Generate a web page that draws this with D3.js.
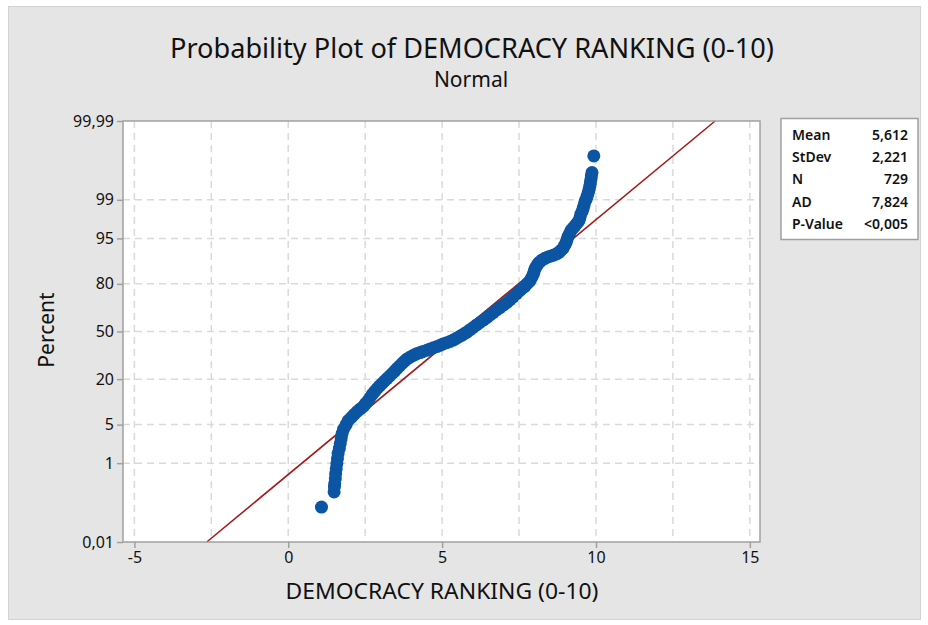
<!DOCTYPE html>
<html>
<head>
<meta charset="utf-8">
<script src="https://cdn.jsdelivr.net/npm/d3@7"></script>
<style>
  body { margin: 0; background: #fff; }
  text { font-family: "Noto Sans", "Open Sans", sans-serif; fill: #111; }
</style>
</head>
<body>
<div id="chart-area"></div>
<script>
// data (democracy ranking, sorted, with plotting position in %)
const rankValues = [1.08,
  1.49, 1.50, 1.51, 1.53, 1.54, 1.56, 1.58, 1.60, 1.62, 1.66, 1.69, 1.72, 1.75, 1.80, 1.88, 1.95,
  2.05, 2.14, 2.24, 2.34, 2.44, 2.50, 2.57, 2.65, 2.73, 2.81, 2.89, 2.97, 3.05, 3.13, 3.21, 3.30,
  3.38, 3.46, 3.54, 3.62, 3.70, 3.78, 3.86, 3.94, 4.03, 4.11, 4.19, 4.29, 4.38, 4.50, 4.61, 4.72,
  4.84, 4.94, 5.03, 5.15, 5.26, 5.36, 5.46, 5.55, 5.65, 5.73, 5.81, 5.91, 6.01, 6.12, 6.23, 6.35,
  6.46, 6.56, 6.66, 6.77, 6.88, 7.00, 7.11, 7.21, 7.31, 7.42, 7.53, 7.61, 7.70, 7.78, 7.86, 7.91,
  7.96, 7.99, 8.02, 8.07, 8.12, 8.18, 8.25, 8.34, 8.44, 8.54, 8.64, 8.72, 8.80, 8.86, 8.93, 8.98,
  9.03, 9.06, 9.09, 9.14, 9.19, 9.25, 9.32, 9.38, 9.45, 9.48, 9.51, 9.55, 9.58, 9.61, 9.64, 9.68,
  9.71, 9.74, 9.77, 9.79, 9.81, 9.82, 9.84, 9.85, 9.87,
  9.93]
const percentValues = [0.096,
  0.23, 0.30, 0.36, 0.47, 0.60, 0.77, 0.98, 1.24, 1.56, 1.94, 2.39, 2.93, 3.56, 4.25, 5.0, 5.79,
  6.43, 7.13, 7.87, 8.56, 9.26, 10.0, 10.8, 12.0, 13.3, 14.5, 15.7, 16.8, 17.9, 19.1, 20.3, 21.6,
  22.9, 24.2, 25.7, 27.1, 28.6, 30.0, 31.4, 32.3, 33.3, 34.1, 34.9, 35.5, 36.2, 37.0, 37.9, 38.7,
  39.6, 40.4, 41.3, 42.2, 43.0, 44.0, 45.1, 46.3, 47.5, 48.6, 49.6, 51.3, 52.8, 54.6, 56.3, 58.1,
  59.8, 61.5, 63.1, 64.8, 66.4, 68.0, 69.6, 71.3, 72.9, 74.8, 76.6, 77.8, 78.9, 80.3, 81.6, 83.0,
  84.3, 85.5, 86.7, 87.6, 88.5, 89.1, 89.7, 90.2, 90.6, 90.9, 91.2, 91.5, 91.9, 92.4, 92.9, 93.6,
  94.2, 94.8, 95.3, 95.8, 96.3, 96.6, 96.9, 97.2, 97.5, 97.8, 98.1, 98.3, 98.5, 98.7, 98.9, 99.02,
  99.15, 99.26, 99.37, 99.45, 99.53, 99.59, 99.65, 99.70, 99.75,
  99.904]

const xTicks = [-5, 0, 5, 10, 15]
const xGrid = [-5, -2.5, 0, 2.5, 5, 7.5, 10, 12.5, 15]
const yTicks = [0.01, 1, 5, 20, 50, 80, 95, 99, 99.99]
const yTickLabels = ["0,01", "1", "5", "20", "50", "80", "95", "99", "99,99"]

const statNames = ["Mean", "StDev", "N", "AD", "P-Value"]
const statValues = ["5,612", "2,221", "729", "7,824", "<0,005"]
const fitMean = 5.612
const fitSd = 2.221

// inverse normal cdf (Acklam)
function probit(p) {
  const a = [-39.69683028665376, 220.9460984245205, -275.9285104469687, 138.3577518672690, -30.66479806614716, 2.506628277459239]
  const b = [-54.47609879822406, 161.5858368580409, -155.6989798598866, 66.80131188771972, -13.28068155288572]
  const c = [-0.007784894002430293, -0.3223964580411365, -2.400758277161838, -2.549732539343734, 4.374664141464968, 2.938163982698783]
  const d = [0.007784695709041462, 0.3224671290700398, 2.445134137142996, 3.754408161907416]
  const plow = 0.02425
  let q, r
  if (p < plow) {
    q = Math.sqrt(-2 * Math.log(p))
    return (((((c[0]*q+c[1])*q+c[2])*q+c[3])*q+c[4])*q+c[5]) / ((((d[0]*q+d[1])*q+d[2])*q+d[3])*q+1)
  } else if (p <= 1 - plow) {
    q = p - 0.5; r = q * q
    return (((((a[0]*r+a[1])*r+a[2])*r+a[3])*r+a[4])*r+a[5])*q / (((((b[0]*r+b[1])*r+b[2])*r+b[3])*r+b[4])*r+1)
  }
  q = Math.sqrt(-2 * Math.log(1 - p))
  return -(((((c[0]*q+c[1])*q+c[2])*q+c[3])*q+c[4])*q+c[5]) / ((((d[0]*q+d[1])*q+d[2])*q+d[3])*q+1)
}
const pz = pct => probit(pct / 100)

const W = 928, H = 625
const PLOT = { LEFT: 123, RIGHT: 760, TOP: 121, BOTTOM: 542 }

const svg = d3.select("#chart-area").append("svg")
  .attr("width", W)
  .attr("height", H)

// outer panel
svg.append("rect")
  .attr("x", 8.5).attr("y", 6.5)
  .attr("width", 912).attr("height", 613)
  .attr("fill", "#e5e5e5")
  .attr("stroke", "#d2d2d2")

// scales
const x = d3.scaleLinear().domain([-5.37, 15.33]).range([PLOT.LEFT, PLOT.RIGHT])
const zMax = pz(99.99)
const y = d3.scaleLinear().domain([-zMax, zMax]).range([PLOT.BOTTOM, PLOT.TOP])

// plot background
svg.append("rect")
  .attr("x", PLOT.LEFT).attr("y", PLOT.TOP)
  .attr("width", PLOT.RIGHT - PLOT.LEFT).attr("height", PLOT.BOTTOM - PLOT.TOP)
  .attr("fill", "#fff")

// gridlines
svg.append("g").selectAll("line")
  .data(xGrid)
  .join("line")
    .attr("x1", d => x(d)).attr("x2", d => x(d))
    .attr("y1", PLOT.TOP).attr("y2", PLOT.BOTTOM)
    .attr("stroke", "#dadada")
    .attr("stroke-width", 1.5)
    .attr("stroke-dasharray", "7,5")

svg.append("g").selectAll("line")
  .data(yTicks.slice(1, -1))
  .join("line")
    .attr("x1", PLOT.LEFT).attr("x2", PLOT.RIGHT)
    .attr("y1", d => y(pz(d))).attr("y2", d => y(pz(d)))
    .attr("stroke", "#dadada")
    .attr("stroke-width", 1.5)
    .attr("stroke-dasharray", "7,5")

// fitted normal line
const fitLine = d3.line()
  .x(z => x(fitMean + fitSd * z))
  .y(z => y(z))
svg.append("path")
  .attr("d", fitLine([-zMax, zMax]))
  .attr("fill", "none")
  .attr("stroke", "#a31b1b")
  .attr("stroke-width", 1.6)

// points
svg.append("g").selectAll("circle")
  .data(rankValues)
  .join("circle")
    .attr("cx", d => x(d))
    .attr("cy", (d, i) => y(pz(percentValues[i])))
    .attr("r", 6.5)
    .attr("fill", "#0b55a3")

// plot border
svg.append("rect")
  .attr("x", PLOT.LEFT).attr("y", PLOT.TOP)
  .attr("width", PLOT.RIGHT - PLOT.LEFT).attr("height", PLOT.BOTTOM - PLOT.TOP)
  .attr("fill", "none")
  .attr("stroke", "#a0a0a0")
  .attr("stroke-width", 1.5)

// axes
const xAxis = svg.append("g")
  .attr("transform", `translate(0, ${PLOT.BOTTOM})`)
  .call(d3.axisBottom(x).tickValues(xTicks).tickSize(6).tickPadding(4).tickFormat(d => d))
const yAxis = svg.append("g")
  .attr("transform", `translate(${PLOT.LEFT}, 0)`)
  .call(d3.axisLeft(y).tickValues(yTicks.map(pz)).tickSize(6).tickPadding(3)
    .tickFormat((d, i) => yTickLabels[i]))

;[xAxis, yAxis].forEach(a => {
  a.select(".domain").remove()
  a.selectAll(".tick line").attr("stroke", "#a0a0a0").attr("stroke-width", 1.5)
  a.selectAll(".tick text").attr("font-size", 16).attr("fill", "#111")
    .attr("font-family", "Noto Sans")
})

// titles
svg.append("text")
  .attr("x", 472).attr("y", 58)
  .attr("text-anchor", "middle")
  .attr("font-size", 28)
  .attr("fill", "#000")
  .attr("textLength", 604).attr("lengthAdjust", "spacingAndGlyphs")
  .text("Probability Plot of DEMOCRACY RANKING (0-10)")

svg.append("text")
  .attr("x", 471).attr("y", 87)
  .attr("text-anchor", "middle")
  .attr("font-size", 21)
  .text("Normal")

svg.append("text")
  .attr("x", 442).attr("y", 599)
  .attr("text-anchor", "middle")
  .attr("font-size", 21)
  .attr("textLength", 313).attr("lengthAdjust", "spacingAndGlyphs")
  .text("DEMOCRACY RANKING (0-10)")

svg.append("text")
  .attr("transform", "translate(54, 330) rotate(-90)")
  .attr("text-anchor", "middle")
  .attr("font-size", 21)
  .text("Percent")

// stats box
const legend = svg.append("g")
legend.append("rect")
  .attr("x", 781).attr("y", 118.5)
  .attr("width", 137).attr("height", 121)
  .attr("fill", "#fff")
  .attr("stroke", "#a0a0a0")
  .attr("stroke-width", 1.5)

legend.selectAll("text.name")
  .data(statNames)
  .join("text")
    .attr("class", "name")
    .attr("x", 792)
    .attr("y", (d, i) => 140 + i * 22.2)
    .attr("font-size", 14)
    .attr("font-family", "Open Sans")
    .attr("font-weight", 600)
    .text(d => d)

legend.selectAll("text.val")
  .data(statValues)
  .join("text")
    .attr("class", "val")
    .attr("x", 908)
    .attr("y", (d, i) => 140 + i * 22.2)
    .attr("text-anchor", "end")
    .attr("font-size", 14)
    .attr("font-family", "Open Sans")
    .attr("font-weight", 600)
    .text(d => d)
</script>
</body>
</html>
